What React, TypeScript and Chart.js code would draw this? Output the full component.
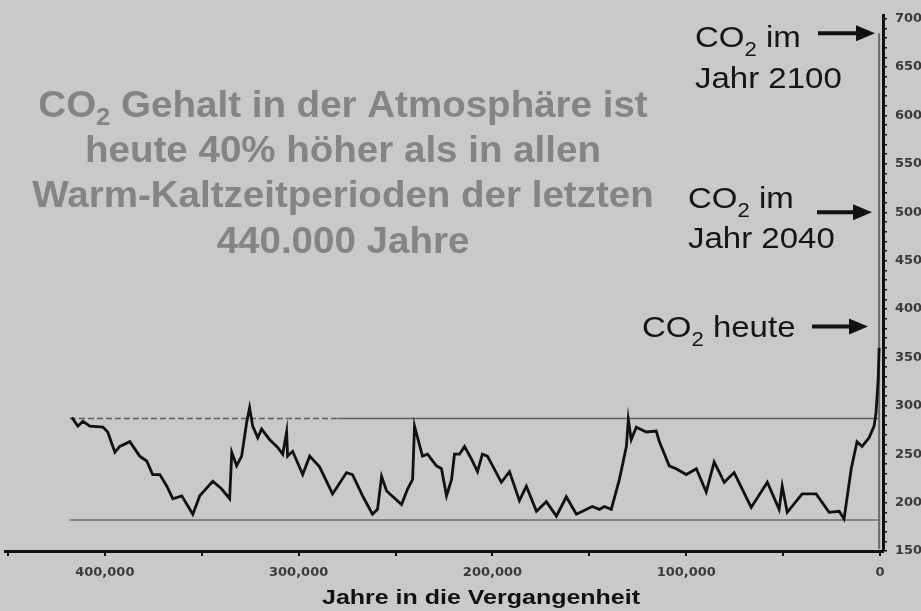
import React, { useEffect, useRef } from "react";
import { Chart, registerables } from "chart.js";

Chart.register(...registerables);

// ---------- DATA ----------
const yearsAgo = [
  417000, 413900, 411300, 407700, 401000, 398500, 394800, 392300, 387100, 382000,
  378400, 375300, 371600, 368000, 364900, 360300, 354600, 351000, 344300, 339700,
  335600, 334500, 332000, 329400, 326800, 325300, 323700, 321100, 319100, 314900,
  310800, 308200, 306200, 305700, 303100, 297900, 294300, 289200, 282500, 275300,
  272200, 267000, 261900, 259300, 257200, 254600, 246900, 243800, 241200, 240200,
  236100, 233500, 228900, 226300, 223700, 221100, 219600, 217000, 214400, 210800,
  207700, 205200, 202600, 195400, 191200, 186100, 182500, 177300, 172200, 167000,
  161900, 156700, 148500, 144800, 142300, 138700, 134500, 130900, 129900, 128400,
  125800, 120600, 115500, 113900, 108800, 105200, 100000, 94800, 89700, 85600,
  80400, 75300, 66500, 58200, 52100, 50500, 47900, 40200, 33000, 26300,
  21100, 18600, 14900, 11900, 9300, 5700, 3100, 2100, 1000, 500,
];
const co2Ppm = [
  288, 279, 284, 279, 278, 273, 252, 258, 263, 248,
  243, 229, 229, 217, 204, 207, 188, 207, 222, 214,
  204, 252, 238, 248, 283, 298, 279, 267, 276, 265,
  257, 250, 273, 248, 253, 229, 248, 237, 209, 231,
  229, 207, 188, 193, 227, 212, 198, 214, 224, 279,
  248, 250, 238, 235, 207, 224, 250, 250, 258, 245,
  232, 250, 248, 221, 232, 202, 217, 191, 201, 186,
  206, 188, 196, 193, 196, 193, 224, 258, 286, 265,
  278, 273, 274, 263, 238, 235, 229, 235, 211, 242,
  221, 231, 195, 221, 193, 217, 190, 209, 209, 190,
  191, 183, 235, 263, 258, 267, 279, 293, 327, 360,
];
const projectionYears = [500, 500];
const projectionPpm = [152, 685];
const upperBandPpm = 287;
const lowerBandPpm = 182;
const bandYears = [418000, 280000, 0];

const xTickValues = [0, 50000, 100000, 150000, 200000, 250000, 300000, 350000, 400000, 450000];
const xLabelValues = [0, 100000, 200000, 300000, 400000];
const yTickValues = [
  150, 160, 170, 180, 190, 200, 210, 220, 230, 240, 250, 260, 270, 280, 290, 300,
  310, 320, 330, 340, 350, 360, 370, 380, 390, 400, 410, 420, 430, 440, 450, 460,
  470, 480, 490, 500, 510, 520, 530, 540, 550, 560, 570, 580, 590, 600, 610, 620,
  630, 640, 650, 660, 670, 680, 690, 700,
];
const yLabelStep = 50;

const titleLines = [
  "CO2 Gehalt in der Atmosphäre ist",
  "heute 40% höher als in allen",
  "Warm-Kaltzeitperioden der letzten",
  "440.000 Jahre",
];
const markerPpm = [685, 500, 382];
const markerLabels = [["CO2 im", "Jahr 2100"], ["CO2 im", "Jahr 2040"], ["CO2 heute"]];
const xAxisTitle = "Jahre in die Vergangenheit";

// ---------- STYLE / LAYOUT ----------
const BG = "#c9c9c9";
const FONT = '"Liberation Sans", Arial, Helvetica, sans-serif';
const TICK_FONT = "DejaVu Sans";

type Run = { text: string; font: string; dy: number; color: string };

function splitCO2(text: string, font: string, subFont: string, subDy: number, color: string): Run[] {
  const parts = text.split(/(CO2)/).filter((p) => p.length > 0);
  const runs: Run[] = [];
  parts.forEach((p) => {
    if (p === "CO2") {
      runs.push({ text: "CO", font, dy: 0, color });
      runs.push({ text: "2", font: subFont, dy: subDy, color });
    } else {
      runs.push({ text: p, font, dy: 0, color });
    }
  });
  return runs;
}

function drawRuns(ctx: CanvasRenderingContext2D, runs: Run[], x: number, baseline: number, sx: number, align: "left" | "center") {
  ctx.save();
  ctx.textBaseline = "alphabetic";
  ctx.textAlign = "left";
  let total = 0;
  const widths = runs.map((r) => {
    ctx.font = r.font;
    const w = ctx.measureText(r.text).width;
    total += w;
    return w;
  });
  const start = align === "center" ? x - (total * sx) / 2 : x;
  ctx.translate(start, baseline);
  ctx.scale(sx, 1);
  let cx = 0;
  runs.forEach((r, i) => {
    ctx.font = r.font;
    ctx.fillStyle = r.color;
    ctx.fillText(r.text, cx, r.dy);
    cx += widths[i];
  });
  ctx.restore();
}

function drawArrow(ctx: CanvasRenderingContext2D, x1: number, x2: number, y: number) {
  ctx.save();
  ctx.strokeStyle = "#111";
  ctx.fillStyle = "#111";
  ctx.lineWidth = 4;
  ctx.beginPath();
  ctx.moveTo(x1, y);
  ctx.lineTo(x2 - 14, y);
  ctx.stroke();
  ctx.beginPath();
  ctx.moveTo(x2, y);
  ctx.lineTo(x2 - 19, y - 8);
  ctx.lineTo(x2 - 19, y + 8);
  ctx.closePath();
  ctx.fill();
  ctx.restore();
}

const titleCenterX = 343;
const titleBaselines = [117, 162, 207, 253];
const markerTextPos = [
  { x: 695, lines: [47, 88] },
  { x: 688, lines: [208, 248] },
  { x: 642, lines: [337] },
];
const markerArrowX = [
  [818, 875],
  [817, 872],
  [812, 868],
];

const decorPlugin = {
  id: "decor",
  beforeDraw(chart: any) {
    const ctx = chart.ctx as CanvasRenderingContext2D;
    ctx.save();
    ctx.fillStyle = BG;
    ctx.fillRect(0, 0, chart.width, chart.height);
    ctx.restore();
  },
  afterDraw(chart: any) {
    const ctx = chart.ctx as CanvasRenderingContext2D;
    const yScale = chart.scales.y;
    // big gray headline
    titleLines.forEach((line, i) => {
      const runs = splitCO2(line, `bold 36px ${FONT}`, `bold 24px ${FONT}`, 8, "#848484");
      drawRuns(ctx, runs, titleCenterX, titleBaselines[i], 1.07, "center");
    });
    // marker labels and arrows
    markerPpm.forEach((v, i) => {
      const py = yScale.getPixelForValue(v);
      drawArrow(ctx, markerArrowX[i][0], markerArrowX[i][1], py);
      markerLabels[i].forEach((line, j) => {
        const runs = splitCO2(line, `30px ${FONT}`, `20px ${FONT}`, 9, "#151515");
        drawRuns(ctx, runs, markerTextPos[i].x, markerTextPos[i].lines[j], 1.1, "left");
      });
    });
    // x axis title
    drawRuns(ctx, [{ text: xAxisTitle, font: `bold 21px ${FONT}`, dy: 0, color: "#111" }], 481, 604, 1.19, "center");
  },
};

export default function App() {
  const canvasRef = useRef<HTMLCanvasElement | null>(null);

  useEffect(() => {
    document.body.style.margin = "0";
    document.body.style.background = BG;
    const canvas = canvasRef.current;
    if (!canvas) return;

    const mainData = yearsAgo.map((x, i) => ({ x, y: co2Ppm[i] }));
    const projData = projectionYears.map((x, i) => ({ x, y: projectionPpm[i] }));
    const upperDashed = [
      { x: bandYears[0], y: upperBandPpm },
      { x: bandYears[1], y: upperBandPpm },
    ];
    const upperSolid = [
      { x: bandYears[1], y: upperBandPpm },
      { x: bandYears[2], y: upperBandPpm },
    ];
    const lower = [
      { x: bandYears[0], y: lowerBandPpm },
      { x: bandYears[2], y: lowerBandPpm },
    ];

    const chart = new Chart(canvas, {
      type: "line",
      data: {
        datasets: [
          { data: mainData, borderColor: "#111", borderWidth: 2.8, order: 1 },
          { data: projData, borderColor: "#6a6a6a", borderWidth: 2, order: 2 },
          { data: upperDashed, borderColor: "#5e5e5e", borderWidth: 1.5, borderDash: [6, 3], order: 3 },
          { data: upperSolid, borderColor: "#5e5e5e", borderWidth: 1.5, order: 4 },
          { data: lower, borderColor: "#6a6a6a", borderWidth: 1.5, order: 5 },
        ],
      },
      options: {
        responsive: false,
        animation: false,
        devicePixelRatio: 1,
        layout: { padding: { left: 5, top: 15, right: 0, bottom: 0 } },
        elements: { point: { radius: 0 }, line: { tension: 0 } },
        plugins: {
          legend: { display: false },
          tooltip: { enabled: false },
          title: { display: false },
        },
        scales: {
          x: {
            type: "linear",
            reverse: true,
            min: -1500,
            max: 451500,
            afterBuildTicks: (s: any) => {
              s.ticks = xTickValues.map((v) => ({ value: v }));
            },
            afterFit: (s: any) => {
              s.height = 60;
            },
            grid: { drawOnChartArea: false, drawTicks: true, tickLength: 5, color: "#111", lineWidth: 2 },
            border: { display: true, color: "#111", width: 3 },
            ticks: {
              autoSkip: false,
              maxRotation: 0,
              padding: 9,
              color: "#3a3a3a",
              font: { family: TICK_FONT, size: 13, weight: "bold" },
              callback: (v: any) => (xLabelValues.includes(Number(v)) ? Number(v).toLocaleString("en-US") : ""),
            },
          },
          y: {
            type: "linear",
            position: "right",
            min: 150,
            max: 703,
            afterBuildTicks: (s: any) => {
              s.ticks = yTickValues.map((v) => ({ value: v }));
            },
            afterFit: (s: any) => {
              s.width = 38;
            },
            grid: { drawOnChartArea: false, drawTicks: true, tickLength: 4, color: "#111", lineWidth: 1.5 },
            border: { display: true, color: "#111", width: 3 },
            ticks: {
              autoSkip: false,
              padding: 8,
              color: "#3a3a3a",
              font: { family: TICK_FONT, size: 13, weight: "bold" },
              callback: (v: any) => (Number(v) % yLabelStep === 0 ? String(v) : ""),
            },
          },
        },
      },
      plugins: [decorPlugin],
    } as any);

    return () => chart.destroy();
  }, []);

  return (
    <div style={{ width: 921, height: 611, background: BG }}>
      <canvas ref={canvasRef} width={921} height={611} style={{ display: "block" }} />
    </div>
  );
}
